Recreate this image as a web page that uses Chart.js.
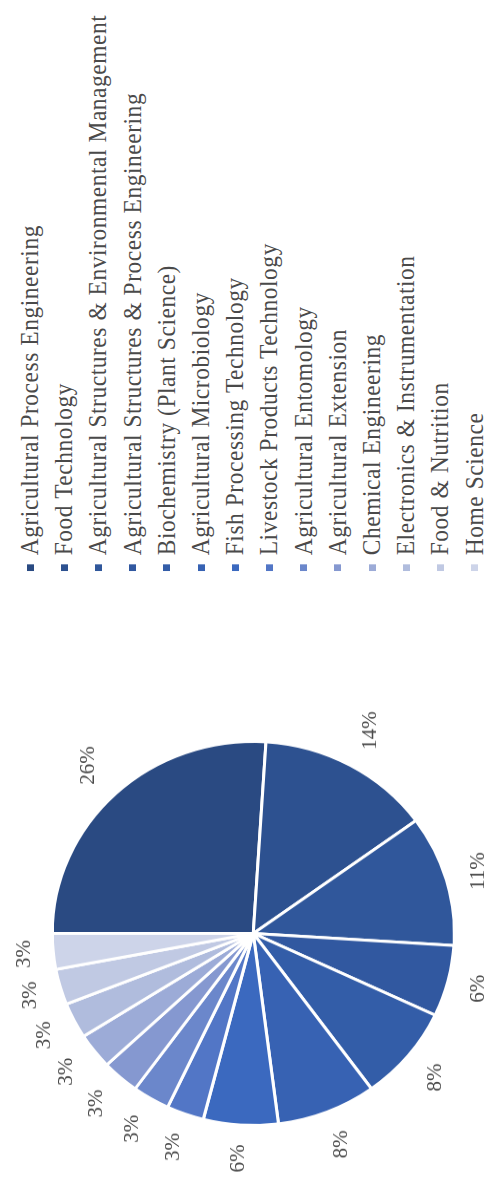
<!DOCTYPE html>
<html>
<head>
<meta charset="utf-8">
<title>Discipline share</title>
<script src="https://cdn.jsdelivr.net/npm/chart.js@4.4.1/dist/chart.umd.min.js"></script>
<style>
  html, body { margin: 0; padding: 0; background: #fff; overflow: hidden; }
  /* the figure is laid out landscape and turned a quarter turn */
  #page {
    position: absolute; left: 0; top: 0;
    width: 1243px; height: 488px;
    transform-origin: 0 0;
    transform: translateY(1187px) rotate(-90deg) scale(0.955, 1);
  }
  #pie { position: absolute; left: 0; top: 0; }
  #legend {
    position: absolute; left: 645px; top: 0; margin: 0; padding: 0; list-style: none;
    font-family: "Liberation Serif", "Times New Roman", serif;
    font-size: 24.5px; letter-spacing: .6px; color: #4a4a4a;
  }
  #legend li {
    position: absolute; left: 0; height: 34px;
    display: flex; align-items: center; white-space: nowrap;
  }
  #legend .sw { width: 7px; height: 7px; margin-right: 9.5px; flex: none; }
</style>
</head>
<body>
<div id="page">
  <canvas id="pie" width="531" height="488"></canvas>
  <ul id="legend"></ul>
</div>
<script>
  // ---- Data ----
  const categories = [
    'Agricultural Process Engineering',
    'Food Technology',
    'Agricultural Structures & Environmental Management',
    'Agricultural Structures & Process Engineering',
    'Biochemistry (Plant Science)',
    'Agricultural Microbiology',
    'Fish Processing Technology',
    'Livestock Products Technology',
    'Agricultural Entomology',
    'Agricultural Extension',
    'Chemical Engineering',
    'Electronics & Instrumentation',
    'Food & Nutrition',
    'Home Science'
  ];
  const shares = [26, 14, 11, 6, 8, 8, 6, 3, 3, 3, 3, 3, 3, 3];
  const sliceColors = [
    '#2A4A82', '#2D5190', '#30579B', '#3158A0', '#335DA8', '#3762B3', '#3B69BF',
    '#5276C6', '#6B87CB', '#8598D0', '#9CABD7', '#B0BCDD', '#C0C9E3', '#CDD4E9'
  ];

  // ---- Percent labels just outside each slice ----
  const outsideLabels = {
    id: 'outsideLabels',
    afterDatasetsDraw(chart) {
      const { ctx } = chart;
      const meta = chart.getDatasetMeta(0);
      ctx.save();
      ctx.font = '22px "Liberation Serif", "Times New Roman", serif';
      ctx.fillStyle = '#4a4a4a';
      ctx.textAlign = 'center';
      ctx.textBaseline = 'middle';
      meta.data.forEach((arc, i) => {
        const p = arc.getProps(['x', 'y', 'startAngle', 'endAngle', 'outerRadius'], true);
        const mid = (p.startAngle + p.endAngle) / 2;
        const ux = Math.cos(mid), uy = Math.sin(mid);
        const text = chart.data.datasets[0].data[i] + '%';
        const w = ctx.measureText(text).width;
        const d = p.outerRadius + 20 + (w / 2) * Math.abs(ux) + 8 * Math.abs(uy);
        ctx.fillText(text, p.x + ux * d, p.y + uy * d);
      });
      ctx.restore();
    }
  };

  const chart = new Chart(document.getElementById('pie'), {
    type: 'pie',
    data: {
      labels: categories,
      datasets: [{
        data: shares,
        backgroundColor: sliceColors,
        borderColor: '#fff',
        borderWidth: 3
      }]
    },
    options: {
      responsive: false,
      animation: false,
      radius: 201,
      layout: { padding: { left: 65, right: 65, top: 52.8, bottom: 34.2 } },
      plugins: { legend: { display: false }, tooltip: { enabled: false } }
    },
    plugins: [outsideLabels]
  });

  // ---- Legend list ----
  const legend = document.getElementById('legend');
  chart.data.labels.forEach((name, i) => {
    const li = document.createElement('li');
    li.style.top = (13 + 34.2 * i) + 'px';
    li.innerHTML = `<span class="sw" style="background:${sliceColors[i]}"></span><span>${name.replace(/&/g, '&amp;')}</span>`;
    legend.appendChild(li);
  });
</script>
</body>
</html>
